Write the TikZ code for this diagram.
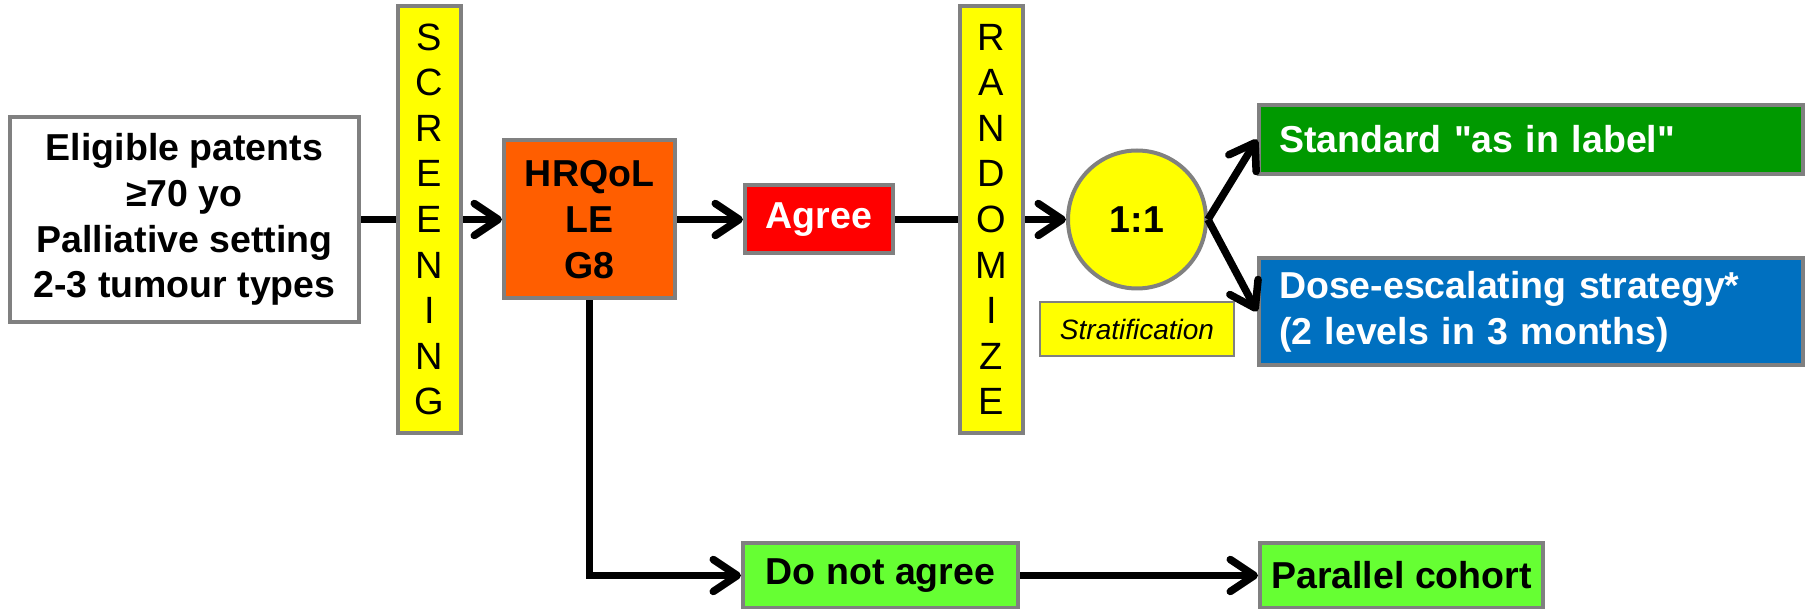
\documentclass[tikz,border=0pt]{standalone}
\usepackage{fontspec}
\setmainfont{Liberation Sans}
\usetikzlibrary{arrows.meta,shapes.geometric}
\definecolor{boxgray}{RGB}{128,128,128}
\definecolor{baryellow}{RGB}{255,255,0}
\definecolor{hrqolorange}{RGB}{255,94,0}
\definecolor{agreered}{RGB}{255,0,0}
\definecolor{stdgreen}{RGB}{0,153,0}
\definecolor{doseblue}{RGB}{0,112,192}
\definecolor{cohortgreen}{RGB}{102,255,51}
\tikzset{
	box/.style={draw=boxgray,line width=4pt,inner sep=0pt,align=center,font=\bfseries\fontsize{37.5}{45.7}\selectfont},
	bar/.style={draw=boxgray,line width=4pt,fill=baryellow,inner sep=0pt,align=center,minimum width=63pt,minimum height=427pt,font=\fontsize{38}{45.6}\selectfont},
	arm/.style={box,text=white,align=left,inner xsep=20pt,text width=504pt,minimum width=544pt},
	link/.style={line width=7.5pt},
	arr/.style={link,-{Straight Barb[length=24pt,width=32pt,round]}}
}
\begin{document}
\begin{tikzpicture}[x=1pt,y=-1pt]
	\useasboundingbox (0,0) rectangle (1805,609);
	\node[box,fill=white,minimum width=349pt,minimum height=205pt] (elig) at (184.5,219.5) {Eligible patents\\≥70 yo\\Palliative setting\\2-3 tumour types};
	\node[bar] (screen) at (429.5,219.5) {S\\C\\R\\E\\E\\N\\I\\N\\G};
	\node[box,fill=hrqolorange,minimum width=171pt,minimum height=158pt] (hrqol) at (589.5,219.5) {HRQoL\\LE\\G8};
	\node[box,fill=agreered,text=white,minimum width=148pt,minimum height=68pt] (agree) at (819,219.5) {Agree};
	\node[bar] (rand) at (991.5,219.5) {R\\A\\N\\D\\O\\M\\I\\Z\\E};
	\node[box,circle,fill=baryellow,minimum size=138pt] (ratio) at (1137,219.5) {1:1};
	\node[draw=boxgray,line width=2.5pt,fill=baryellow,inner sep=0pt,minimum width=194pt,minimum height=54pt,font=\itshape\fontsize{28}{34}\selectfont] (strat) at (1137,329) {Stratification};
	\node[arm,fill=stdgreen,minimum height=69pt] (std) at (1531,139.5) {Standard \textquotedbl as in label\textquotedbl};
	\node[arm,fill=doseblue,minimum height=107pt] (dose) at (1531,311.5) {Dose-escalating strategy*\\(2 levels in 3 months)};
	\node[box,fill=cohortgreen,minimum width=275pt,minimum height=65pt] (donot) at (880.5,575.5) {Do not agree};
	\node[box,fill=cohortgreen,minimum width=283pt,minimum height=65pt] (cohort) at (1401.5,575.5) {Parallel cohort};
	\draw[link] (elig.east) -- (screen.west);
	\draw[arr] (screen.east) -- (hrqol.west);
	\draw[arr] (hrqol.east) -- (agree.west);
	\draw[link] (agree.east) -- (rand.west);
	\draw[arr] (rand.east) -- (ratio.west);
	\draw[arr] (ratio.east) -- (std.west);
	\draw[arr] (ratio.east) -- (dose.west);
	\draw[arr] (hrqol.south) |- (donot.west);
	\draw[arr] (donot.east) -- (cohort.west);
\end{tikzpicture}
\end{document}
